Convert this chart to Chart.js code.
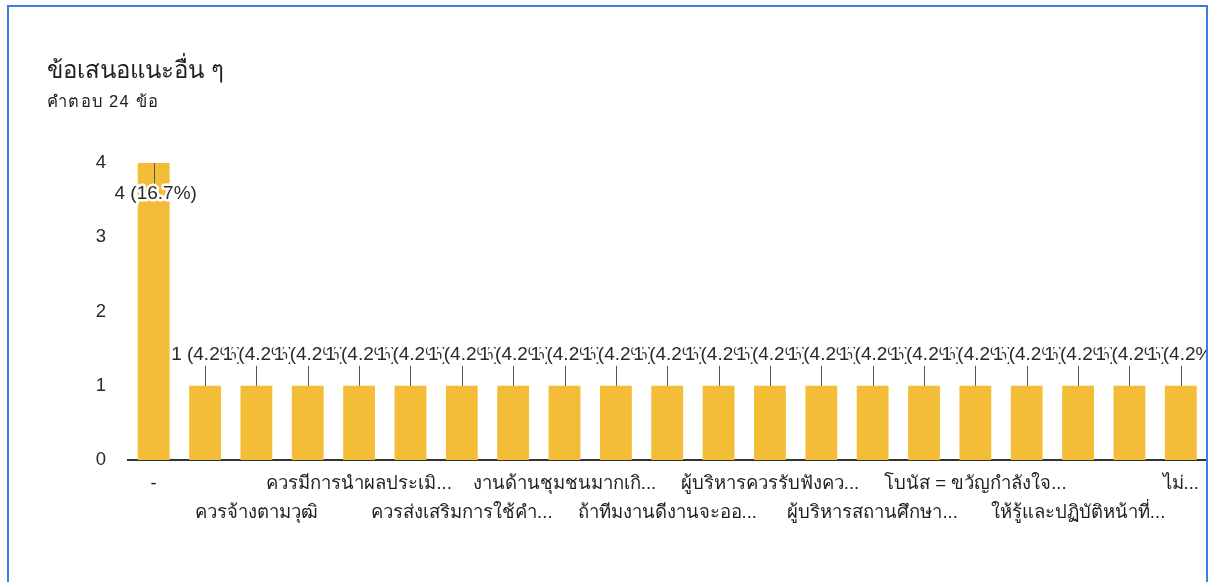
<!DOCTYPE html>
<html>
<head>
<meta charset="utf-8">
<script src="https://cdn.jsdelivr.net/npm/chart.js@4.4.1/dist/chart.umd.min.js"></script>
<style>
  html, body { margin: 0; padding: 0; background: #ffffff; }
  body { width: 1214px; height: 582px; position: relative; overflow: hidden; font-family: "Liberation Sans", Arial, "Noto Sans", sans-serif; }
  #card { position: absolute; left: 7px; top: 5px; width: 1197px; height: 600px; border: 2px solid #3a7fe0; box-sizing: content-box; pointer-events: none; z-index: 2; }
  #title { position: absolute; left: 47px; top: 50px; font-size: 24px; color: #202124; z-index: 3; }
  #subtitle { position: absolute; left: 47px; top: 88px; font-size: 16.5px; letter-spacing: 1.3px; color: #202124; z-index: 3; }
  #wrap { position: absolute; left: 0; top: 0; width: 1206px; height: 582px; overflow: hidden; z-index: 1; }
</style>
</head>
<body>
<div id="wrap"><canvas id="c" width="1209" height="582"></canvas></div>
<div id="card"></div>
<div id="title">ข้อเสนอแนะอื่น ๆ</div>
<div id="subtitle">คำตอบ 24 ข้อ</div>
<script>
// Categories (only every second label is legible in the reference; hidden ones left blank)
const categories = [
  "-",
  "",
  "ควรจ้างตามวุฒิ",
  "",
  "ควรมีการนำผลประเมิ...",
  "",
  "ควรส่งเสริมการใช้คำ...",
  "",
  "งานด้านชุมชนมากเกิ...",
  "",
  "ถ้าทีมงานดีงานจะออ...",
  "",
  "ผู้บริหารควรรับฟังคว...",
  "",
  "ผู้บริหารสถานศึกษา...",
  "",
  "โบนัส = ขวัญกำลังใจ...",
  "",
  "ให้รู้และปฏิบัติหน้าที่...",
  "",
  "ไม่..."
];
const counts = [4, 1, 1, 1, 1, 1, 1, 1, 1, 1, 1, 1, 1, 1, 1, 1, 1, 1, 1, 1, 1];
const totalResponses = 24;
const yTicks = [0, 1, 2, 3, 4];

const FONT = '"Liberation Sans", Arial, "Noto Sans", sans-serif';

const labelPlugin = {
  id: 'barLabels',
  afterDatasetsDraw(chart) {
    const ctx = chart.ctx;
    const meta = chart.getDatasetMeta(0);
    const area = chart.chartArea;
    ctx.save();
    ctx.font = '19px ' + FONT;
    ctx.textAlign = 'center';
    ctx.textBaseline = 'middle';
    ctx.lineJoin = 'round';
    meta.data.forEach((bar, i) => {
      const v = counts[i];
      const pct = (v / totalResponses * 100).toFixed(1);
      const text = v + ' (' + pct + '%)';
      const x = bar.x;
      const top = bar.y;
      let lineY1, lineY2, textY;
      if (top - 40 < area.top) {
        lineY1 = top; lineY2 = top + 21; textY = top + 31;
      } else {
        lineY1 = top; lineY2 = top - 20; textY = top - 31;
      }
      ctx.strokeStyle = '#555555';
      ctx.lineWidth = 1;
      ctx.beginPath();
      ctx.moveTo(Math.round(x) + 0.5, lineY1);
      ctx.lineTo(Math.round(x) + 0.5, lineY2);
      ctx.stroke();
      ctx.strokeStyle = '#ffffff';
      ctx.lineWidth = 5;
      ctx.strokeText(text, x + 2, textY);
      ctx.fillStyle = '#2a2a2a';
      ctx.fillText(text, x + 2, textY);
    });
    ctx.restore();
  }
};

new Chart(document.getElementById('c'), {
  type: 'bar',
  data: {
    labels: categories,
    datasets: [{
      data: counts,
      backgroundColor: '#f4bd38',
      borderWidth: 0,
      barPercentage: 0.62,
      categoryPercentage: 1.0
    }]
  },
  options: {
    responsive: false,
    animation: false,
    events: [],
    layout: { padding: { top: 163, right: 0, bottom: 0, left: 0 } },
    plugins: { legend: { display: false }, tooltip: { enabled: false }, title: { display: false } },
    scales: {
      x: {
        grid: { display: false, drawTicks: false },
        border: { display: true, color: '#333333', width: 2 },
        ticks: {
          autoSkip: false,
          maxRotation: 0,
          minRotation: 0,
          padding: 10,
          color: '#1e1e1e',
          font: { size: 18.5, family: FONT, lineHeight: 1.53 },
          callback: function(value, index) {
            if (index % 2 === 1) return '';
            const lbl = categories[index];
            return (index % 4 === 0) ? [lbl] : ['', lbl];
          }
        },
        afterFit(scale) { scale.height = 122; }
      },
      y: {
        min: 0,
        max: 4,
        grid: { display: false, drawTicks: false },
        border: { display: false },
        afterBuildTicks(scale) { scale.ticks = yTicks.map(v => ({ value: v })); },
        ticks: {
          stepSize: 1,
          padding: 22,
          color: '#2a2a2a',
          font: { size: 18.5, family: FONT }
        },
        afterFit(scale) { scale.width = 128; }
      }
    }
  },
  plugins: [labelPlugin]
});
</script>
</body>
</html>
